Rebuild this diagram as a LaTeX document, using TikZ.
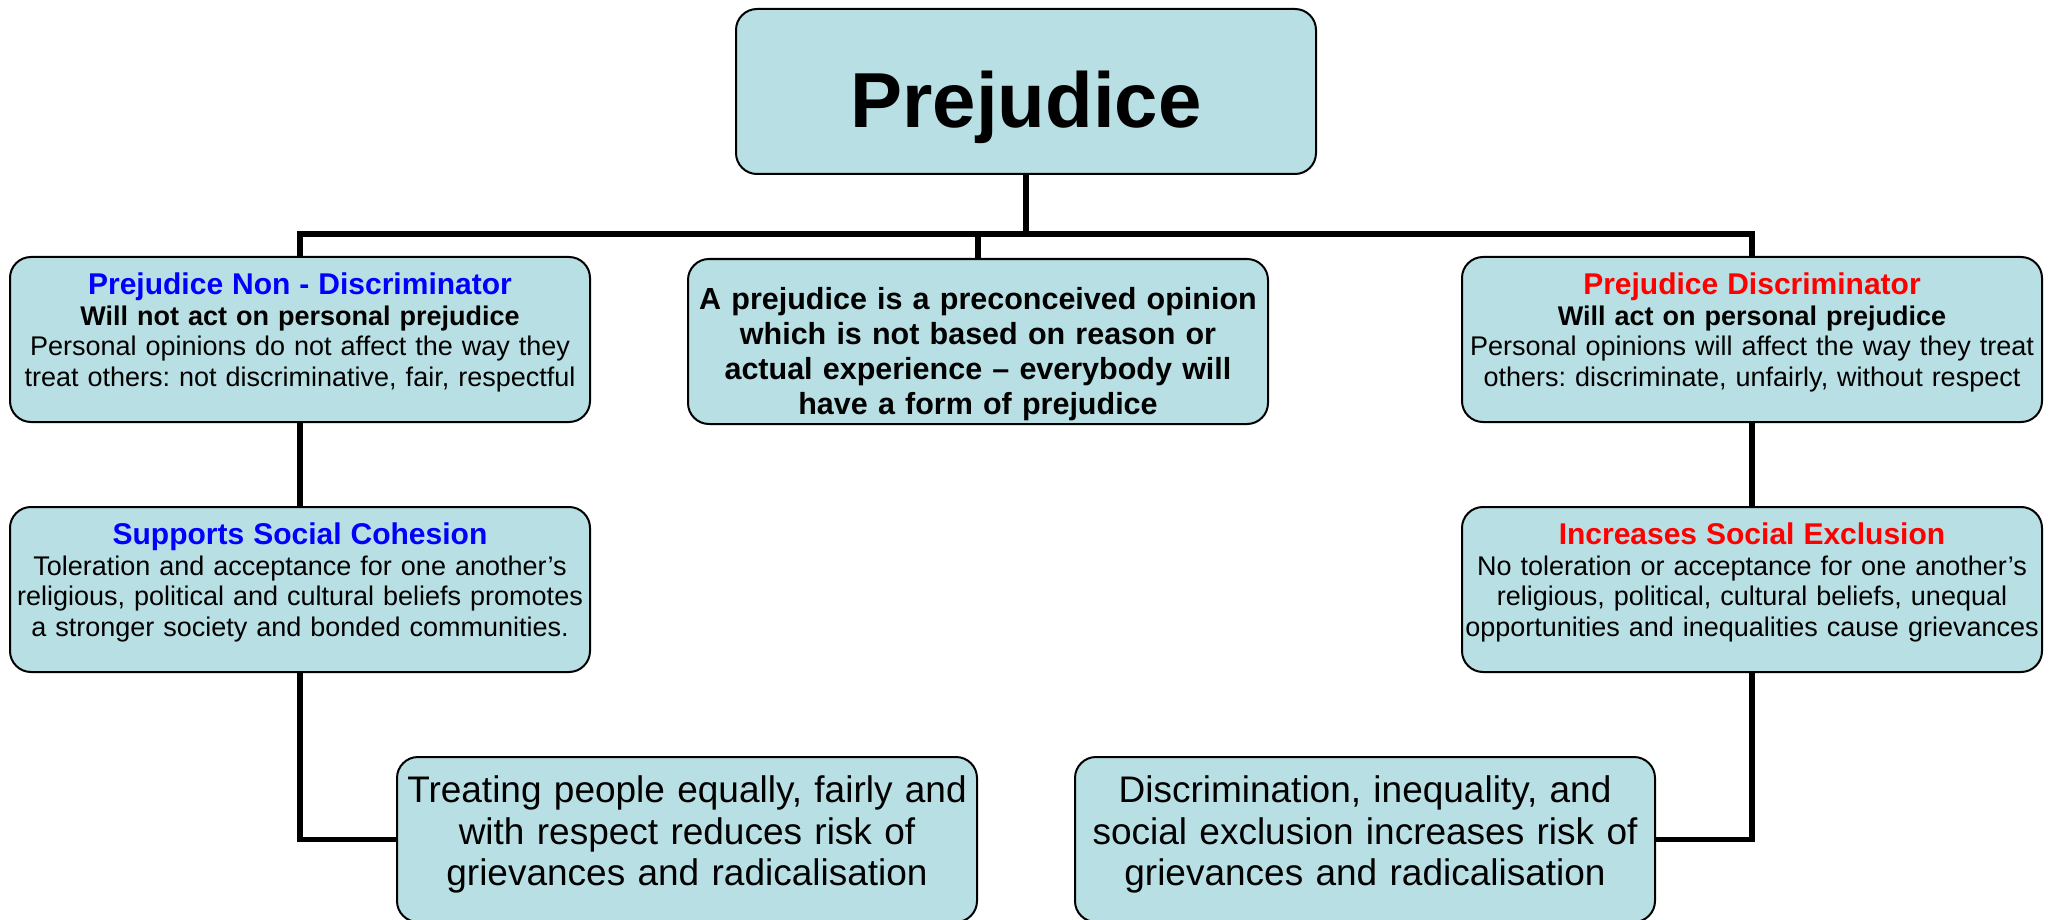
\documentclass[tikz,border=0pt]{standalone}
\usepackage{fontspec}
\setmainfont{Liberation Sans}
\usetikzlibrary{positioning}
\definecolor{boxfill}{RGB}{184,223,227}
\tikzset{card/.style={draw, line width=2pt, fill=boxfill, rounded corners=21pt, minimum width=580pt, minimum height=165pt, inner xsep=0pt, text width=580pt, align=center, font=\fontsize{27}{30.5}\selectfont, text height=0pt, text depth=90pt}}
\tikzset{link/.style={line width=5.3pt}}
\newcommand{\headline}[2]{\textcolor{#1}{\bfseries\fontsize{30}{31}\selectfont #2}}
\frenchspacing

\begin{document}
\begin{tikzpicture}[x=1pt, y=-1pt]
\useasboundingbox (0,0) rectangle (2051,920);

\node[card, font=\bfseries\fontsize{78}{90}\selectfont, text height=73pt, text depth=0pt] (prej) at (1026,91.5) {Prejudice};
\node[card, font=\bfseries\fontsize{30.5}{35}\selectfont, text depth=65pt] [below=83pt of prej, xshift=-48pt] (define) {A prejudice is a preconceived opinion\\ which is not based on reason or\\ actual experience – everybody will\\ have a form of prejudice};
\node[card] (nondisc) at (300,339.5) {\headline{blue}{Prejudice Non - Discriminator}\\ \textbf{Will not act on personal prejudice}\\ Personal opinions do not affect the way they\\ treat others: not discriminative, fair, respectful};
\node[card] (disc) at (1752,339.5) {\headline{red}{Prejudice Discriminator}\\ \textbf{Will act on personal prejudice}\\ Personal opinions will affect the way they treat\\ others: discriminate, unfairly, without respect};
\node[card] [below=83pt of nondisc] (cohesion) {\headline{blue}{Supports Social Cohesion}\\ Toleration and acceptance for one another’s\\ religious, political and cultural beliefs promotes\\ a stronger society and bonded communities.};
\node[card] [below=83pt of disc] (exclusion) {\headline{red}{Increases Social Exclusion}\\ No toleration or acceptance for one another’s\\ religious, political, cultural beliefs, unequal\\ \mbox{opportunities and inequalities cause grievances}};
\node[card, font=\fontsize{37}{41.5}\selectfont, text depth=74pt] [below=83pt of cohesion, xshift=387pt] (equal) {Treating people equally, fairly and\\ with respect reduces risk of\\ grievances and radicalisation};
\node[card, font=\fontsize{37}{41.5}\selectfont, text depth=74pt] [below=83pt of exclusion, xshift=-387pt] (unequal) {Discrimination, inequality, and\\ social exclusion increases risk of\\ grievances and radicalisation};

% tree lines
\coordinate (bus) at (0,234);
\draw[link] (prej.south) -- (prej.south |- bus);
\draw[link] (nondisc.north) |- (disc.north |- bus) -- (disc.north);
\draw[link] (define.north) -- (define.north |- bus);
\draw[link] (nondisc) -- (cohesion);
\draw[link] (disc) -- (exclusion);
\draw[link] (cohesion.south) |- (equal.west);
\draw[link] (exclusion.south) |- (unequal.east);
\end{tikzpicture}
\end{document}
